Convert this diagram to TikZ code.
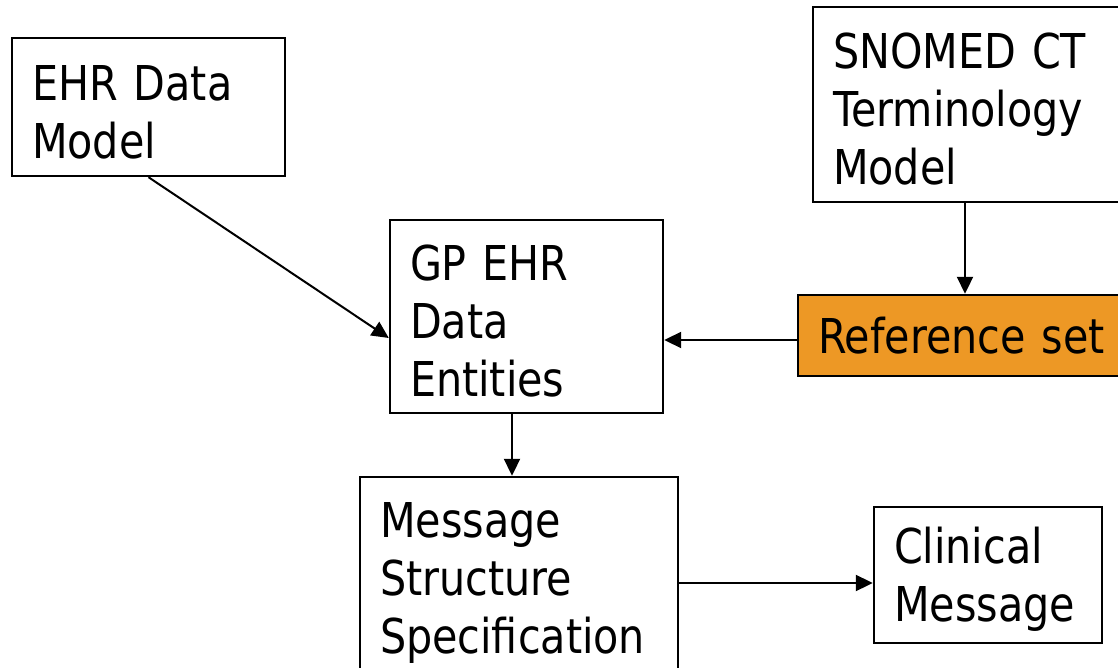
\documentclass[tikz,border=0pt]{standalone}
\usepackage{fontspec}
\setmainfont{DejaVu Sans}[FakeStretch=0.86]
\usetikzlibrary{arrows.meta,calc}
\definecolor{refor}{RGB}{237,152,37}
\begin{document}
\begin{tikzpicture}[x=1pt,y=-1pt,
  box/.style={draw=black,line width=2.4pt,rectangle,inner xsep=20pt,inner ysep=0pt,
    align=left,font=\fontsize{48}{58}\selectfont},
  multi/.style={execute at begin node={\rule{0pt}{45pt}}},
  arr/.style={line width=2pt,-{Triangle[length=17pt,width=16pt]}}]
\useasboundingbox (0,0) rectangle (1118,668);
\clip (0,0) rectangle (1118,668);
\fill[white] (0,0) rectangle (1118,668);
\node[box,multi,text width=233pt,minimum width=273pt,minimum height=138pt] (ehr) at (148.5,107) {EHR Data\\Model};
\node[box,multi,text width=282pt,minimum width=322pt,minimum height=195pt] (snomed) at (974,104.5) {SNOMED CT\\Terminology\\Model};
\node[box,fill=refor,text width=302pt,minimum width=342pt,minimum height=81pt] (ref) at (969,335.5) {Reference set};
\node[box,multi,text width=233pt,minimum width=273pt,minimum height=193pt] (gp) at (526.5,316.5) {GP EHR\\Data\\Entities};
\node[box,multi,text width=278pt,minimum width=318pt,minimum height=202pt] (msg) at (519,578) {Message\\Structure\\Specification};
\node[box,multi,text width=188pt,minimum width=228pt,minimum height=136pt] (clin) at (988,575) {Clinical\\Message};
\coordinate (a1) at ([yshift=-21.5pt]gp.west);
\draw[arr] (ehr.south) -- (a1);
\coordinate (a2) at ([xshift=-9pt]snomed.south);
\draw[arr] (a2) -- (a2 |- ref.north);
\coordinate (a3) at ([yshift=-4.5pt]ref.west);
\draw[arr] (a3) -- (a3 -| gp.east);
\coordinate (a4) at ([xshift=-14.5pt]gp.south);
\draw[arr] (a4) -- (a4 |- msg.north);
\coordinate (a5) at ([yshift=-5pt]msg.east);
\draw[arr] (a5) -- (a5 -| clin.west);
\end{tikzpicture}
\end{document}
